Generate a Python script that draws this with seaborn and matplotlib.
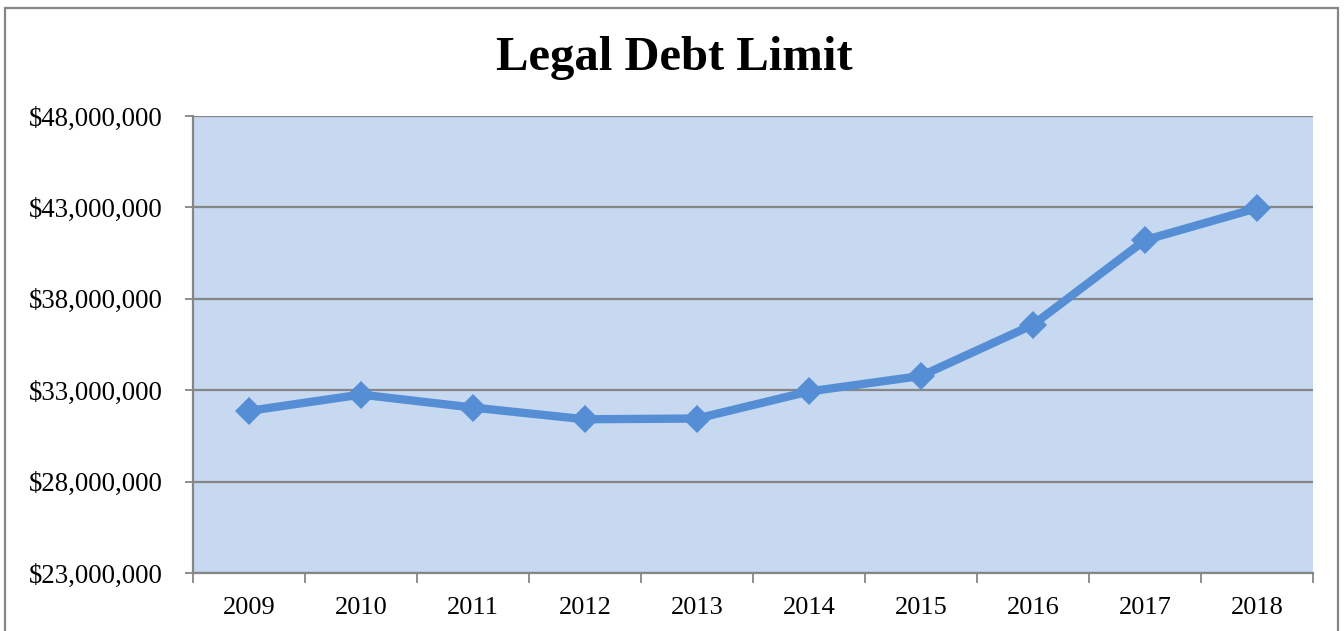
import matplotlib
matplotlib.use("Agg")
import matplotlib.pyplot as plt
import matplotlib.ticker as mtick
from matplotlib.patches import Rectangle
import seaborn as sns
import pandas as pd

# values
years = ['2009', '2010', '2011', '2012', '2013', '2014', '2015', '2016', '2017', '2018']
debt_limit = [31870000, 32760000, 32050000, 31410000, 31450000, 32930000, 33780000, 36580000, 41210000, 42960000]
y_ticks = [23000000, 28000000, 33000000, 38000000, 43000000, 48000000]

color_line = '#558ED5'
color_bg = '#C6D9F1'
color_grid = '#868686'
font = 'Liberation Serif'

df = pd.DataFrame({'year': years, 'limit': debt_limit})

sns.set_style('white')
plt.rcParams['font.family'] = [font, 'DejaVu Serif']
plt.rcParams['text.color'] = 'black'

fig = plt.figure(figsize=(13.44, 6.31), dpi=100)
ax = fig.add_axes([193/1344, 1-573/631, 1120/1344, 457/631])
ax.set_facecolor(color_bg)

sns.lineplot(data=df, x='year', y='limit', ax=ax, color=color_line, lw=6,
             marker='D', markersize=14, markeredgewidth=0, sort=False)

# y axis
ax.set_ylim(23000000, 48000000)
ax.set_yticks(y_ticks)
ax.yaxis.set_major_formatter(mtick.FuncFormatter(lambda v, p: '${:,.0f}'.format(v)))
ax.grid(axis='y', color=color_grid, lw=1.6)
ax.set_axisbelow(True)

# x axis, ticks between categories like the original
ax.set_xlim(-0.5, len(years) - 0.5)
ax.set_xticks(range(len(years)))
ax.set_xticklabels(years)
ax.set_xticks([i - 0.5 for i in range(len(years) + 1)], minor=True)
ax.tick_params(axis='x', which='major', length=0, pad=17, labelsize=19, colors='black')
ax.tick_params(axis='x', which='minor', length=7, width=1.3, color=color_grid, bottom=True)
ax.tick_params(axis='y', which='major', length=6, width=1.3, color=color_grid, left=True,
               pad=16, labelsize=19.3, labelcolor='black')

sns.despine(ax=ax, top=True, right=True)
for s in ['left', 'bottom']:
    ax.spines[s].set_color(color_grid)
    ax.spines[s].set_linewidth(1.6)

ax.set_xlabel('')
ax.set_ylabel('')

fig.text(0.502, 1-58/631, 'Legal Debt Limit', ha='center', va='center',
         fontsize=35, fontweight='bold', family=font, color='black')

# outer chart frame
fig.patches.append(Rectangle((5/1344, -0.02), 1333/1344, 1-8/631+0.02, transform=fig.transFigure,
                             fill=False, edgecolor=color_grid, lw=1.6))

fig.savefig('out.png', dpi=100)
